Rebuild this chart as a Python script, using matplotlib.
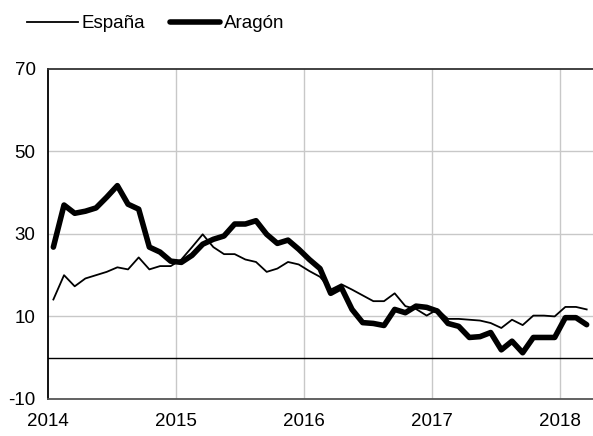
import matplotlib.pyplot as plt
import numpy as np

# monthly values, Jan 2014 .. Mar 2018
espana = [14.1, 20.0, 17.3, 19.2, 20.0, 20.8, 21.9, 21.4, 24.3, 21.4, 22.2, 22.2,
          23.8, 26.8, 29.9, 26.8, 25.1, 25.1, 23.8, 23.2, 20.8, 21.6, 23.2, 22.6,
          21.0, 19.6, 16.5, 17.8, 16.5, 15.1, 13.7, 13.7, 15.6, 12.5, 11.8, 10.2,
          11.7, 9.4, 9.4, 9.2, 9.0, 8.4, 7.2, 9.2, 7.9, 10.2, 10.2, 10.0,
          12.3, 12.3, 11.7]
aragon = [26.8, 37.0, 35.0, 35.5, 36.3, 38.9, 41.7, 37.2, 36.0, 26.8, 25.6, 23.4,
          23.1, 24.8, 27.5, 28.7, 29.5, 32.4, 32.4, 33.2, 29.9, 27.7, 28.5, 26.3,
          23.8, 21.6, 15.6, 17.0, 11.7, 8.5, 8.3, 7.8, 11.7, 10.9, 12.5, 12.2,
          11.3, 8.3, 7.6, 4.9, 5.1, 6.1, 1.9, 4.0, 1.2, 4.9, 4.9, 4.9,
          9.7, 9.7, 8.0]
years = [2014, 2015, 2016, 2017, 2018]
yticks = [-10, 10, 30, 50, 70]

# mid-month positions as fractional years
t = 2014 + (np.arange(len(espana)) + 0.5) / 12

plt.rcParams['font.family'] = ['Liberation Sans', 'DejaVu Sans']
plt.rcParams['axes.unicode_minus'] = False

fig = plt.figure(figsize=(5.93, 4.36), dpi=100)
ax = fig.add_axes([0.081, 0.085, 0.919, 0.757])

ax.plot(t, espana, color='black', lw=1.3, label='España', solid_joinstyle='round')
ax.plot(t, aragon, color='black', lw=4.0, label='Aragón', solid_joinstyle='round',
        solid_capstyle='round')

ax.axhline(0, color='black', lw=1.0, zorder=1)
for v in [10, 30, 50]:
    ax.axhline(v, color='#c8c8c8', lw=1.0, zorder=0)
for yr in years[1:]:
    ax.axvline(yr, color='#c8c8c8', lw=1.0, zorder=0)

ax.set_xlim(2014, 2014 + 545 / 128)
ax.set_ylim(-10, 70)
ax.set_xticks(years)
ax.set_yticks(yticks)
ax.tick_params(length=0, labelsize=13.5, colors='black')
ax.tick_params(axis='x', pad=10)
ax.tick_params(axis='y', pad=9)

ax.spines['right'].set_visible(False)
ax.spines['left'].set_color('black')
ax.spines['left'].set_linewidth(1.3)
ax.spines['top'].set_color('#333333')
ax.spines['top'].set_linewidth(1.3)
ax.spines['bottom'].set_color('#555555')
ax.spines['bottom'].set_linewidth(1.3)

fig.legend(loc='upper left', bbox_to_anchor=(0.024, 0.995), ncol=2, frameon=False,
           fontsize=13.5, handlelength=2.7, handletextpad=0.2, columnspacing=1.3,
           borderaxespad=0.3)

fig.savefig('out.png', dpi=100)
